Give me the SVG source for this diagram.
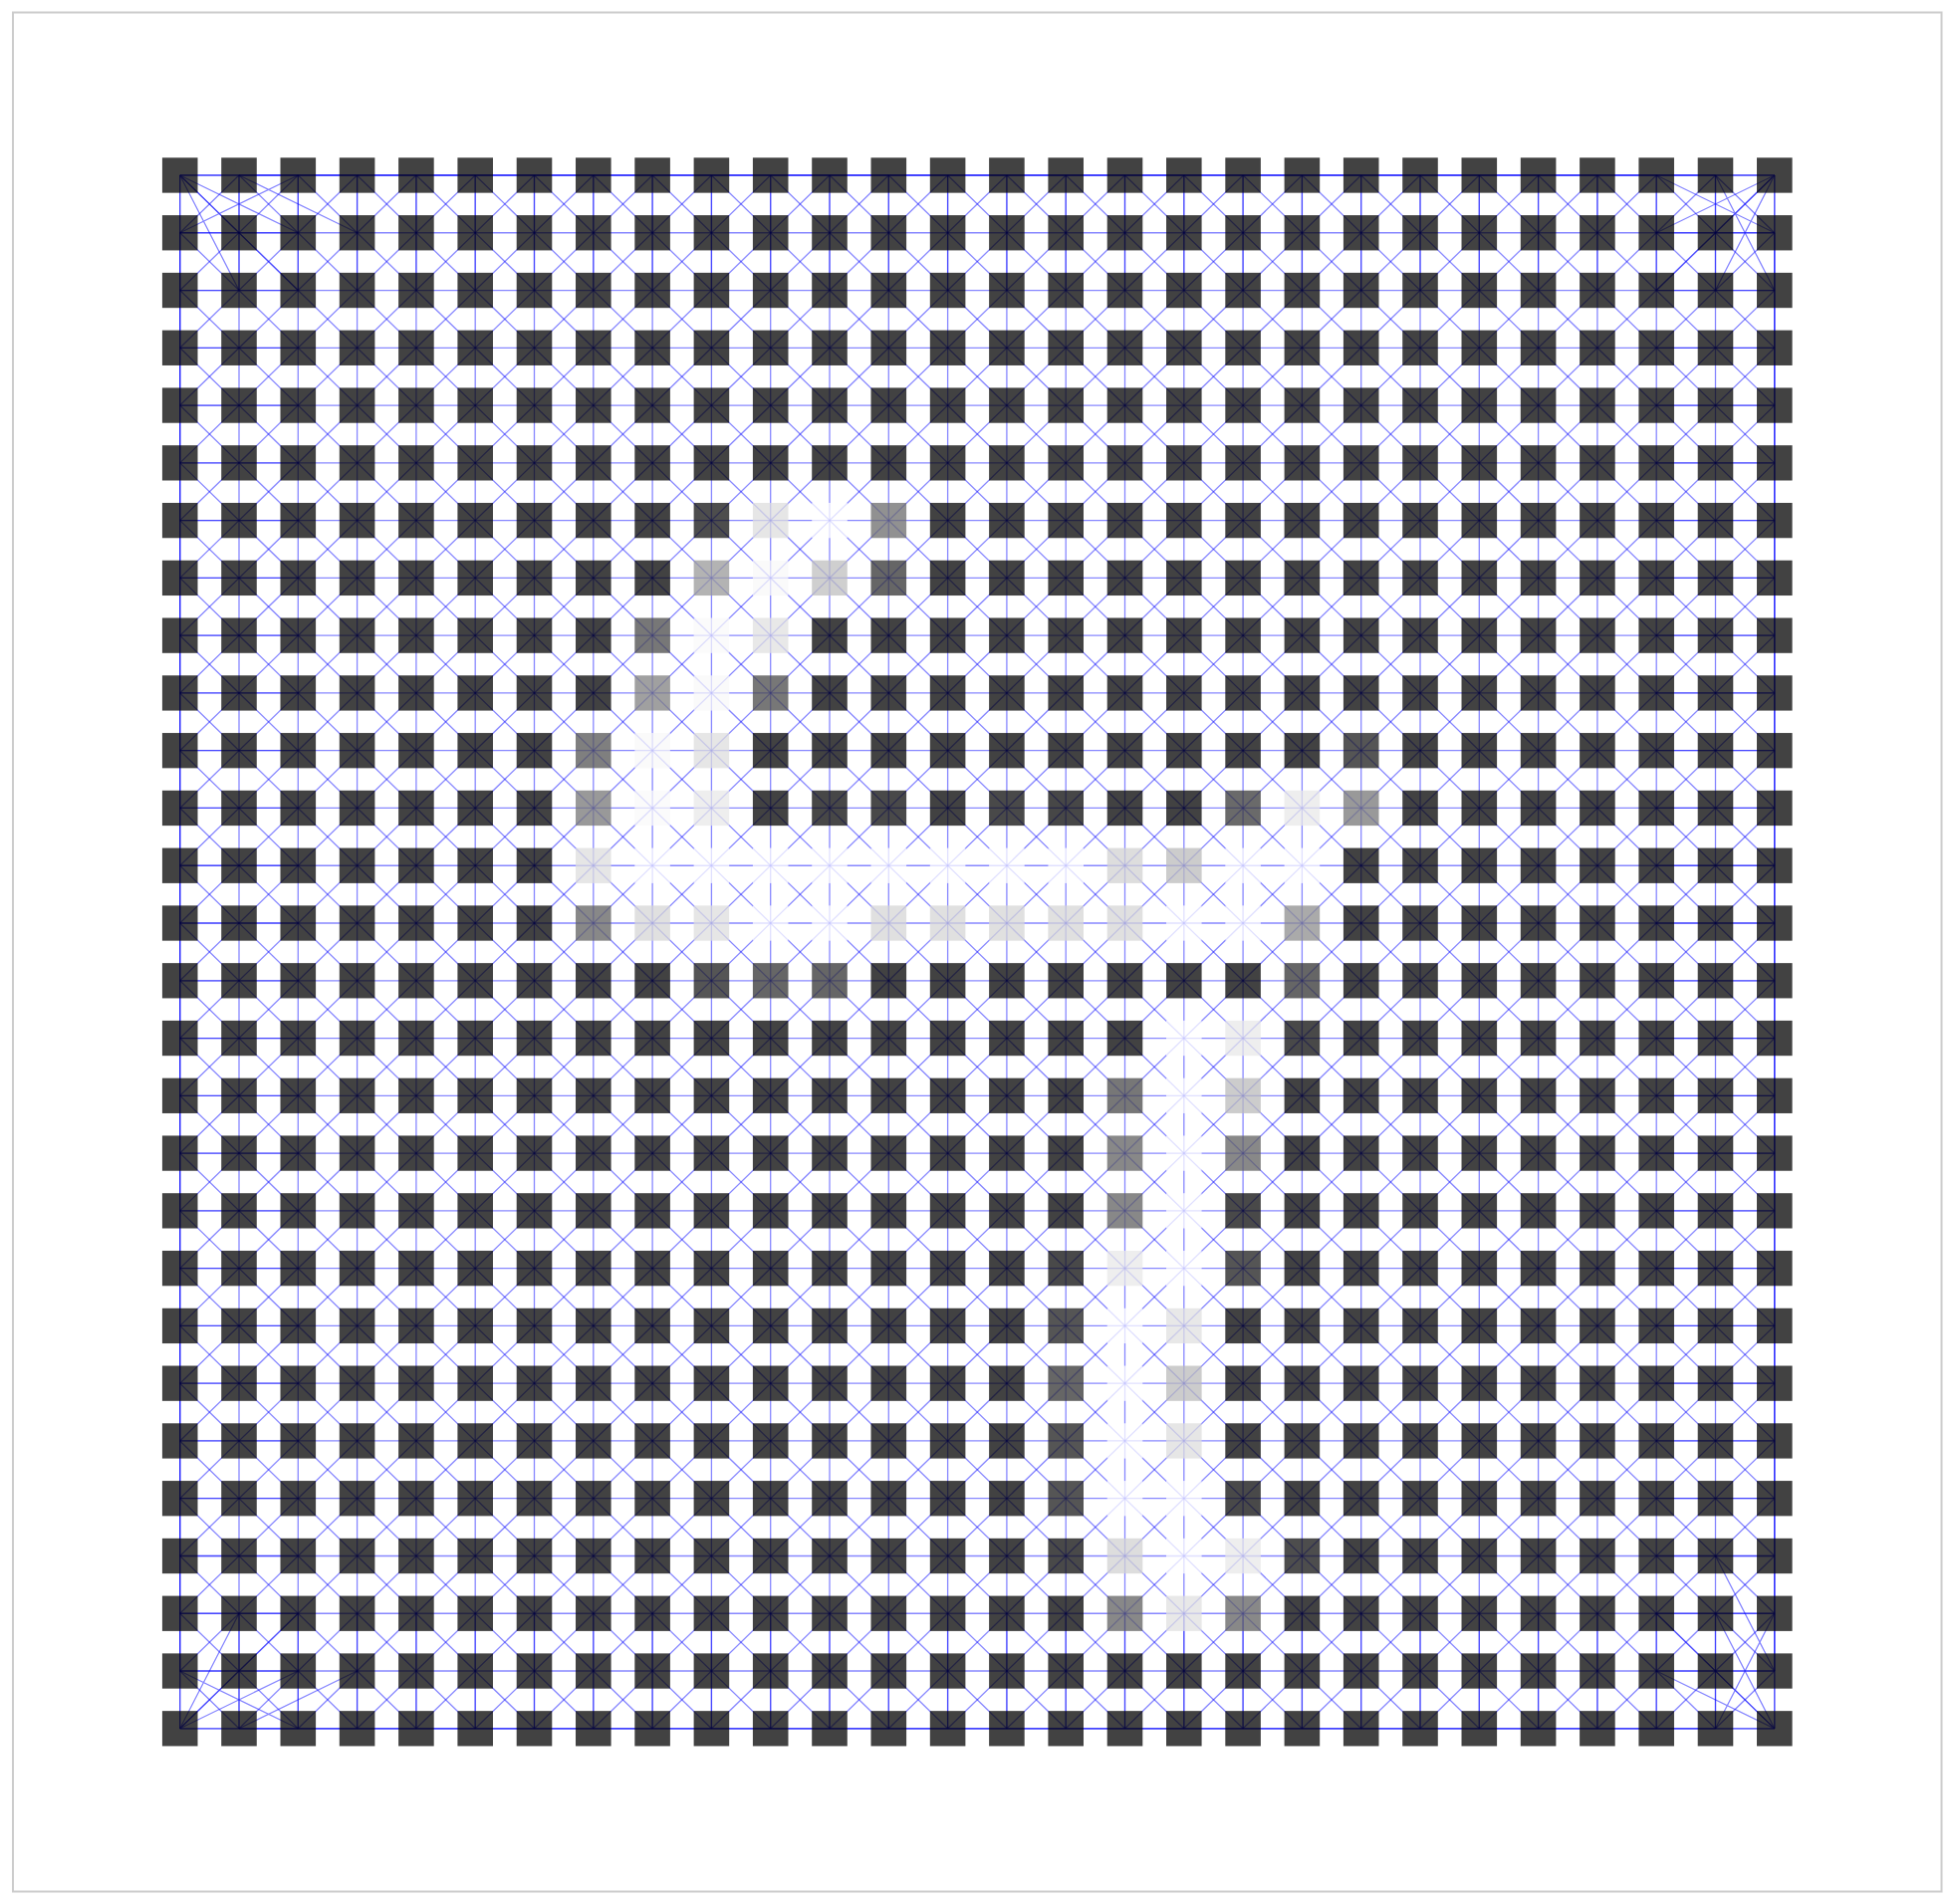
<svg xmlns="http://www.w3.org/2000/svg" xmlns:xlink="http://www.w3.org/1999/xlink" width="1962" height="1912" viewBox="0 0 1962 1912">
<style>
.e{fill:none;stroke:#0000ff;stroke-opacity:.47;stroke-width:1.3px;vector-effect:non-scaling-stroke}
</style>
<defs><rect id="d" x="-0.3" y="-0.3055" width="0.6" height="0.611"/></defs>
<rect width="1962" height="1912" fill="#ffffff"/>
<rect x="13" y="12.5" width="1936.5" height="1887" fill="none" stroke="#cccccc" stroke-width="2"/>
<g transform="matrix(59.3 0 0 57.77 180.7 176)">
<g id="connectors">
<path class="e" d="M0 0H27M0 1H27M0 2H27M0 3H27M0 4H27M0 5H27M0 6H27M0 7H27M0 8H27M0 9H27M0 10H27M0 11H27M0 12H27M0 13H27M0 14H27M0 15H27M0 16H27M0 17H27M0 18H27M0 19H27M0 20H27M0 21H27M0 22H27M0 23H27M0 24H27M0 25H27M0 26H27M0 27H27"/>
<path class="e" d="M0 0V27M1 0V27M2 0V27M3 0V27M4 0V27M5 0V27M6 0V27M7 0V27M8 0V27M9 0V27M10 0V27M11 0V27M12 0V27M13 0V27M14 0V27M15 0V27M16 0V27M17 0V27M18 0V27M19 0V27M20 0V27M21 0V27M22 0V27M23 0V27M24 0V27M25 0V27M26 0V27M27 0V27"/>
<path class="e" d="M0 26L1 27M0 25L2 27M0 24L3 27M0 23L4 27M0 22L5 27M0 21L6 27M0 20L7 27M0 19L8 27M0 18L9 27M0 17L10 27M0 16L11 27M0 15L12 27M0 14L13 27M0 13L14 27M0 12L15 27M0 11L16 27M0 10L17 27M0 9L18 27M0 8L19 27M0 7L20 27M0 6L21 27M0 5L22 27M0 4L23 27M0 3L24 27M0 2L25 27M0 1L26 27M0 0L27 27M1 0L27 26M2 0L27 25M3 0L27 24M4 0L27 23M5 0L27 22M6 0L27 21M7 0L27 20M8 0L27 19M9 0L27 18M10 0L27 17M11 0L27 16M12 0L27 15M13 0L27 14M14 0L27 13M15 0L27 12M16 0L27 11M17 0L27 10M18 0L27 9M19 0L27 8M20 0L27 7M21 0L27 6M22 0L27 5M23 0L27 4M24 0L27 3M25 0L27 2M26 0L27 1"/>
<path class="e" d="M1 0L0 1M2 0L0 2M3 0L0 3M4 0L0 4M5 0L0 5M6 0L0 6M7 0L0 7M8 0L0 8M9 0L0 9M10 0L0 10M11 0L0 11M12 0L0 12M13 0L0 13M14 0L0 14M15 0L0 15M16 0L0 16M17 0L0 17M18 0L0 18M19 0L0 19M20 0L0 20M21 0L0 21M22 0L0 22M23 0L0 23M24 0L0 24M25 0L0 25M26 0L0 26M27 0L0 27M27 1L1 27M27 2L2 27M27 3L3 27M27 4L4 27M27 5L5 27M27 6L6 27M27 7L7 27M27 8L8 27M27 9L9 27M27 10L10 27M27 11L11 27M27 12L12 27M27 13L13 27M27 14L14 27M27 15L15 27M27 16L16 27M27 17L17 27M27 18L18 27M27 19L19 27M27 20L20 27M27 21L21 27M27 22L22 27M27 23L23 27M27 24L24 27M27 25L25 27M27 26L26 27"/>
<path class="e" d="M0 0H26M0 27H26M0 0V26M27 0V26"/>
<path class="e" d="M1 0H27M1 27H27M0 1V27M27 1V27"/>
<path class="e" d="M1 0V2M2 0V2M3 0V2M4 0V2M5 0V2M6 0V2M7 0V2M8 0V2M9 0V2M10 0V2M11 0V2M12 0V2M13 0V2M14 0V2M15 0V2M16 0V2M17 0V2M18 0V2M19 0V2M20 0V2M21 0V2M22 0V2M23 0V2M24 0V2M25 0V2M26 0V2M1 25V27M2 25V27M3 25V27M4 25V27M5 25V27M6 25V27M7 25V27M8 25V27M9 25V27M10 25V27M11 25V27M12 25V27M13 25V27M14 25V27M15 25V27M16 25V27M17 25V27M18 25V27M19 25V27M20 25V27M21 25V27M22 25V27M23 25V27M24 25V27M25 25V27M26 25V27M0 1H2M0 2H2M0 3H2M0 4H2M0 5H2M0 6H2M0 7H2M0 8H2M0 9H2M0 10H2M0 11H2M0 12H2M0 13H2M0 14H2M0 15H2M0 16H2M0 17H2M0 18H2M0 19H2M0 20H2M0 21H2M0 22H2M0 23H2M0 24H2M0 25H2M0 26H2M25 1H27M25 2H27M25 3H27M25 4H27M25 5H27M25 6H27M25 7H27M25 8H27M25 9H27M25 10H27M25 11H27M25 12H27M25 13H27M25 14H27M25 15H27M25 16H27M25 17H27M25 18H27M25 19H27M25 20H27M25 21H27M25 22H27M25 23H27M25 24H27M25 25H27M25 26H27"/>
<path class="e" d="M0 0L2 1M0 0L1 2M0 0L2 2M27 0L25 1M27 0L26 2M27 0L25 2M0 27L2 26M0 27L1 25M0 27L2 25M27 27L25 26M27 27L26 25M27 27L25 25M1 0L3 1M0 1L2 0M26 0L27 2M27 1L25 0M0 26L2 27M1 27L3 26M26 27L27 25M27 26L26 24"/>
</g>
<g id="nodes" fill="#000000" fill-opacity="0.74">
<g id="row0" transform="translate(0 0)"><use id="n0-0" href="#d"/><use id="n0-1" href="#d" x="1"/><use id="n0-2" href="#d" x="2"/><use id="n0-3" href="#d" x="3"/><use id="n0-4" href="#d" x="4"/><use id="n0-5" href="#d" x="5"/><use id="n0-6" href="#d" x="6"/><use id="n0-7" href="#d" x="7"/><use id="n0-8" href="#d" x="8"/><use id="n0-9" href="#d" x="9"/><use id="n0-10" href="#d" x="10"/><use id="n0-11" href="#d" x="11"/><use id="n0-12" href="#d" x="12"/><use id="n0-13" href="#d" x="13"/><use id="n0-14" href="#d" x="14"/><use id="n0-15" href="#d" x="15"/><use id="n0-16" href="#d" x="16"/><use id="n0-17" href="#d" x="17"/><use id="n0-18" href="#d" x="18"/><use id="n0-19" href="#d" x="19"/><use id="n0-20" href="#d" x="20"/><use id="n0-21" href="#d" x="21"/><use id="n0-22" href="#d" x="22"/><use id="n0-23" href="#d" x="23"/><use id="n0-24" href="#d" x="24"/><use id="n0-25" href="#d" x="25"/><use id="n0-26" href="#d" x="26"/><use id="n0-27" href="#d" x="27"/></g>
<g id="row1" transform="translate(0 1)"><use id="n1-0" href="#d"/><use id="n1-1" href="#d" x="1"/><use id="n1-2" href="#d" x="2"/><use id="n1-3" href="#d" x="3"/><use id="n1-4" href="#d" x="4"/><use id="n1-5" href="#d" x="5"/><use id="n1-6" href="#d" x="6"/><use id="n1-7" href="#d" x="7"/><use id="n1-8" href="#d" x="8"/><use id="n1-9" href="#d" x="9"/><use id="n1-10" href="#d" x="10"/><use id="n1-11" href="#d" x="11"/><use id="n1-12" href="#d" x="12"/><use id="n1-13" href="#d" x="13"/><use id="n1-14" href="#d" x="14"/><use id="n1-15" href="#d" x="15"/><use id="n1-16" href="#d" x="16"/><use id="n1-17" href="#d" x="17"/><use id="n1-18" href="#d" x="18"/><use id="n1-19" href="#d" x="19"/><use id="n1-20" href="#d" x="20"/><use id="n1-21" href="#d" x="21"/><use id="n1-22" href="#d" x="22"/><use id="n1-23" href="#d" x="23"/><use id="n1-24" href="#d" x="24"/><use id="n1-25" href="#d" x="25"/><use id="n1-26" href="#d" x="26"/><use id="n1-27" href="#d" x="27"/></g>
<g id="row2" transform="translate(0 2)"><use id="n2-0" href="#d"/><use id="n2-1" href="#d" x="1"/><use id="n2-2" href="#d" x="2"/><use id="n2-3" href="#d" x="3"/><use id="n2-4" href="#d" x="4"/><use id="n2-5" href="#d" x="5"/><use id="n2-6" href="#d" x="6"/><use id="n2-7" href="#d" x="7"/><use id="n2-8" href="#d" x="8"/><use id="n2-9" href="#d" x="9"/><use id="n2-10" href="#d" x="10"/><use id="n2-11" href="#d" x="11"/><use id="n2-12" href="#d" x="12"/><use id="n2-13" href="#d" x="13"/><use id="n2-14" href="#d" x="14"/><use id="n2-15" href="#d" x="15"/><use id="n2-16" href="#d" x="16"/><use id="n2-17" href="#d" x="17"/><use id="n2-18" href="#d" x="18"/><use id="n2-19" href="#d" x="19"/><use id="n2-20" href="#d" x="20"/><use id="n2-21" href="#d" x="21"/><use id="n2-22" href="#d" x="22"/><use id="n2-23" href="#d" x="23"/><use id="n2-24" href="#d" x="24"/><use id="n2-25" href="#d" x="25"/><use id="n2-26" href="#d" x="26"/><use id="n2-27" href="#d" x="27"/></g>
<g id="row3" transform="translate(0 3)"><use id="n3-0" href="#d"/><use id="n3-1" href="#d" x="1"/><use id="n3-2" href="#d" x="2"/><use id="n3-3" href="#d" x="3"/><use id="n3-4" href="#d" x="4"/><use id="n3-5" href="#d" x="5"/><use id="n3-6" href="#d" x="6"/><use id="n3-7" href="#d" x="7"/><use id="n3-8" href="#d" x="8"/><use id="n3-9" href="#d" x="9"/><use id="n3-10" href="#d" x="10"/><use id="n3-11" href="#d" x="11"/><use id="n3-12" href="#d" x="12"/><use id="n3-13" href="#d" x="13"/><use id="n3-14" href="#d" x="14"/><use id="n3-15" href="#d" x="15"/><use id="n3-16" href="#d" x="16"/><use id="n3-17" href="#d" x="17"/><use id="n3-18" href="#d" x="18"/><use id="n3-19" href="#d" x="19"/><use id="n3-20" href="#d" x="20"/><use id="n3-21" href="#d" x="21"/><use id="n3-22" href="#d" x="22"/><use id="n3-23" href="#d" x="23"/><use id="n3-24" href="#d" x="24"/><use id="n3-25" href="#d" x="25"/><use id="n3-26" href="#d" x="26"/><use id="n3-27" href="#d" x="27"/></g>
<g id="row4" transform="translate(0 4)"><use id="n4-0" href="#d"/><use id="n4-1" href="#d" x="1"/><use id="n4-2" href="#d" x="2"/><use id="n4-3" href="#d" x="3"/><use id="n4-4" href="#d" x="4"/><use id="n4-5" href="#d" x="5"/><use id="n4-6" href="#d" x="6"/><use id="n4-7" href="#d" x="7"/><use id="n4-8" href="#d" x="8"/><use id="n4-9" href="#d" x="9"/><use id="n4-10" href="#d" x="10"/><use id="n4-11" href="#d" x="11"/><use id="n4-12" href="#d" x="12"/><use id="n4-13" href="#d" x="13"/><use id="n4-14" href="#d" x="14"/><use id="n4-15" href="#d" x="15"/><use id="n4-16" href="#d" x="16"/><use id="n4-17" href="#d" x="17"/><use id="n4-18" href="#d" x="18"/><use id="n4-19" href="#d" x="19"/><use id="n4-20" href="#d" x="20"/><use id="n4-21" href="#d" x="21"/><use id="n4-22" href="#d" x="22"/><use id="n4-23" href="#d" x="23"/><use id="n4-24" href="#d" x="24"/><use id="n4-25" href="#d" x="25"/><use id="n4-26" href="#d" x="26"/><use id="n4-27" href="#d" x="27"/></g>
<g id="row5" transform="translate(0 5)"><use id="n5-0" href="#d"/><use id="n5-1" href="#d" x="1"/><use id="n5-2" href="#d" x="2"/><use id="n5-3" href="#d" x="3"/><use id="n5-4" href="#d" x="4"/><use id="n5-5" href="#d" x="5"/><use id="n5-6" href="#d" x="6"/><use id="n5-7" href="#d" x="7"/><use id="n5-8" href="#d" x="8"/><use id="n5-9" href="#d" x="9"/><use id="n5-10" href="#d" x="10"/><use id="n5-11" href="#d" x="11"/><use id="n5-12" href="#d" x="12"/><use id="n5-13" href="#d" x="13"/><use id="n5-14" href="#d" x="14"/><use id="n5-15" href="#d" x="15"/><use id="n5-16" href="#d" x="16"/><use id="n5-17" href="#d" x="17"/><use id="n5-18" href="#d" x="18"/><use id="n5-19" href="#d" x="19"/><use id="n5-20" href="#d" x="20"/><use id="n5-21" href="#d" x="21"/><use id="n5-22" href="#d" x="22"/><use id="n5-23" href="#d" x="23"/><use id="n5-24" href="#d" x="24"/><use id="n5-25" href="#d" x="25"/><use id="n5-26" href="#d" x="26"/><use id="n5-27" href="#d" x="27"/></g>
<g id="row6" transform="translate(0 6)"><use id="n6-0" href="#d"/><use id="n6-1" href="#d" x="1"/><use id="n6-2" href="#d" x="2"/><use id="n6-3" href="#d" x="3"/><use id="n6-4" href="#d" x="4"/><use id="n6-5" href="#d" x="5"/><use id="n6-6" href="#d" x="6"/><use id="n6-7" href="#d" x="7"/><use id="n6-8" href="#d" x="8"/><use id="n6-9" href="#d" x="9" fill="#0f0f0f"/><use id="n6-10" href="#d" x="10" fill="#dddddd"/><use id="n6-11" href="#d" x="11" fill="#ffffff"/><use id="n6-12" href="#d" x="12" fill="#6a6a6a"/><use id="n6-13" href="#d" x="13"/><use id="n6-14" href="#d" x="14"/><use id="n6-15" href="#d" x="15"/><use id="n6-16" href="#d" x="16"/><use id="n6-17" href="#d" x="17"/><use id="n6-18" href="#d" x="18"/><use id="n6-19" href="#d" x="19"/><use id="n6-20" href="#d" x="20"/><use id="n6-21" href="#d" x="21"/><use id="n6-22" href="#d" x="22"/><use id="n6-23" href="#d" x="23"/><use id="n6-24" href="#d" x="24"/><use id="n6-25" href="#d" x="25"/><use id="n6-26" href="#d" x="26"/><use id="n6-27" href="#d" x="27"/></g>
<g id="row7" transform="translate(0 7)"><use id="n7-0" href="#d"/><use id="n7-1" href="#d" x="1"/><use id="n7-2" href="#d" x="2"/><use id="n7-3" href="#d" x="3"/><use id="n7-4" href="#d" x="4"/><use id="n7-5" href="#d" x="5"/><use id="n7-6" href="#d" x="6"/><use id="n7-7" href="#d" x="7"/><use id="n7-8" href="#d" x="8"/><use id="n7-9" href="#d" x="9" fill="#989898"/><use id="n7-10" href="#d" x="10" fill="#f8f8f8"/><use id="n7-11" href="#d" x="11" fill="#bebebe"/><use id="n7-12" href="#d" x="12" fill="#303030"/><use id="n7-13" href="#d" x="13"/><use id="n7-14" href="#d" x="14"/><use id="n7-15" href="#d" x="15"/><use id="n7-16" href="#d" x="16"/><use id="n7-17" href="#d" x="17"/><use id="n7-18" href="#d" x="18"/><use id="n7-19" href="#d" x="19"/><use id="n7-20" href="#d" x="20"/><use id="n7-21" href="#d" x="21"/><use id="n7-22" href="#d" x="22"/><use id="n7-23" href="#d" x="23"/><use id="n7-24" href="#d" x="24"/><use id="n7-25" href="#d" x="25"/><use id="n7-26" href="#d" x="26"/><use id="n7-27" href="#d" x="27"/></g>
<g id="row8" transform="translate(0 8)"><use id="n8-0" href="#d"/><use id="n8-1" href="#d" x="1"/><use id="n8-2" href="#d" x="2"/><use id="n8-3" href="#d" x="3"/><use id="n8-4" href="#d" x="4"/><use id="n8-5" href="#d" x="5"/><use id="n8-6" href="#d" x="6"/><use id="n8-7" href="#d" x="7"/><use id="n8-8" href="#d" x="8" fill="#474747"/><use id="n8-9" href="#d" x="9" fill="#f9f9f9"/><use id="n8-10" href="#d" x="10" fill="#e0e0e0"/><use id="n8-11" href="#d" x="11"/><use id="n8-12" href="#d" x="12"/><use id="n8-13" href="#d" x="13"/><use id="n8-14" href="#d" x="14"/><use id="n8-15" href="#d" x="15"/><use id="n8-16" href="#d" x="16"/><use id="n8-17" href="#d" x="17"/><use id="n8-18" href="#d" x="18"/><use id="n8-19" href="#d" x="19"/><use id="n8-20" href="#d" x="20"/><use id="n8-21" href="#d" x="21"/><use id="n8-22" href="#d" x="22"/><use id="n8-23" href="#d" x="23"/><use id="n8-24" href="#d" x="24"/><use id="n8-25" href="#d" x="25"/><use id="n8-26" href="#d" x="26"/><use id="n8-27" href="#d" x="27"/></g>
<g id="row9" transform="translate(0 9)"><use id="n9-0" href="#d"/><use id="n9-1" href="#d" x="1"/><use id="n9-2" href="#d" x="2"/><use id="n9-3" href="#d" x="3"/><use id="n9-4" href="#d" x="4"/><use id="n9-5" href="#d" x="5"/><use id="n9-6" href="#d" x="6"/><use id="n9-7" href="#d" x="7"/><use id="n9-8" href="#d" x="8" fill="#7f7f7f"/><use id="n9-9" href="#d" x="9" fill="#f8f8f8"/><use id="n9-10" href="#d" x="10" fill="#474747"/><use id="n9-11" href="#d" x="11"/><use id="n9-12" href="#d" x="12"/><use id="n9-13" href="#d" x="13"/><use id="n9-14" href="#d" x="14"/><use id="n9-15" href="#d" x="15"/><use id="n9-16" href="#d" x="16"/><use id="n9-17" href="#d" x="17"/><use id="n9-18" href="#d" x="18"/><use id="n9-19" href="#d" x="19"/><use id="n9-20" href="#d" x="20"/><use id="n9-21" href="#d" x="21"/><use id="n9-22" href="#d" x="22"/><use id="n9-23" href="#d" x="23"/><use id="n9-24" href="#d" x="24"/><use id="n9-25" href="#d" x="25"/><use id="n9-26" href="#d" x="26"/><use id="n9-27" href="#d" x="27"/></g>
<g id="row10" transform="translate(0 10)"><use id="n10-0" href="#d"/><use id="n10-1" href="#d" x="1"/><use id="n10-2" href="#d" x="2"/><use id="n10-3" href="#d" x="3"/><use id="n10-4" href="#d" x="4"/><use id="n10-5" href="#d" x="5"/><use id="n10-6" href="#d" x="6"/><use id="n10-7" href="#d" x="7" fill="#525252"/><use id="n10-8" href="#d" x="8" fill="#f8f8f8"/><use id="n10-9" href="#d" x="9" fill="#dddddd"/><use id="n10-10" href="#d" x="10"/><use id="n10-11" href="#d" x="11"/><use id="n10-12" href="#d" x="12"/><use id="n10-13" href="#d" x="13"/><use id="n10-14" href="#d" x="14"/><use id="n10-15" href="#d" x="15"/><use id="n10-16" href="#d" x="16"/><use id="n10-17" href="#d" x="17"/><use id="n10-18" href="#d" x="18"/><use id="n10-19" href="#d" x="19"/><use id="n10-20" href="#d" x="20" fill="#191919"/><use id="n10-21" href="#d" x="21"/><use id="n10-22" href="#d" x="22"/><use id="n10-23" href="#d" x="23"/><use id="n10-24" href="#d" x="24"/><use id="n10-25" href="#d" x="25"/><use id="n10-26" href="#d" x="26"/><use id="n10-27" href="#d" x="27"/></g>
<g id="row11" transform="translate(0 11)"><use id="n11-0" href="#d"/><use id="n11-1" href="#d" x="1"/><use id="n11-2" href="#d" x="2"/><use id="n11-3" href="#d" x="3"/><use id="n11-4" href="#d" x="4"/><use id="n11-5" href="#d" x="5"/><use id="n11-6" href="#d" x="6"/><use id="n11-7" href="#d" x="7" fill="#757575"/><use id="n11-8" href="#d" x="8" fill="#fafafa"/><use id="n11-9" href="#d" x="9" fill="#e8e8e8"/><use id="n11-10" href="#d" x="10"/><use id="n11-11" href="#d" x="11" fill="#070707"/><use id="n11-12" href="#d" x="12" fill="#0a0a0a"/><use id="n11-13" href="#d" x="13"/><use id="n11-14" href="#d" x="14" fill="#0a0a0a"/><use id="n11-15" href="#d" x="15" fill="#070707"/><use id="n11-16" href="#d" x="16"/><use id="n11-17" href="#d" x="17"/><use id="n11-18" href="#d" x="18" fill="#363636"/><use id="n11-19" href="#d" x="19" fill="#e8e8e8"/><use id="n11-20" href="#d" x="20" fill="#757575"/><use id="n11-21" href="#d" x="21"/><use id="n11-22" href="#d" x="22"/><use id="n11-23" href="#d" x="23"/><use id="n11-24" href="#d" x="24"/><use id="n11-25" href="#d" x="25"/><use id="n11-26" href="#d" x="26"/><use id="n11-27" href="#d" x="27"/></g>
<g id="row12" transform="translate(0 12)"><use id="n12-0" href="#d"/><use id="n12-1" href="#d" x="1"/><use id="n12-2" href="#d" x="2"/><use id="n12-3" href="#d" x="3"/><use id="n12-4" href="#d" x="4"/><use id="n12-5" href="#d" x="5"/><use id="n12-6" href="#d" x="6"/><use id="n12-7" href="#d" x="7" fill="#dddddd"/><use id="n12-8" href="#d" x="8" fill="#ffffff"/><use id="n12-9" href="#d" x="9" fill="#ffffff"/><use id="n12-10" href="#d" x="10" fill="#ffffff"/><use id="n12-11" href="#d" x="11" fill="#ffffff"/><use id="n12-12" href="#d" x="12" fill="#ffffff"/><use id="n12-13" href="#d" x="13" fill="#ffffff"/><use id="n12-14" href="#d" x="14" fill="#ffffff"/><use id="n12-15" href="#d" x="15" fill="#ffffff"/><use id="n12-16" href="#d" x="16" fill="#d1d1d1"/><use id="n12-17" href="#d" x="17" fill="#bababa"/><use id="n12-18" href="#d" x="18" fill="#ffffff"/><use id="n12-19" href="#d" x="19" fill="#ffffff"/><use id="n12-20" href="#d" x="20"/><use id="n12-21" href="#d" x="21"/><use id="n12-22" href="#d" x="22"/><use id="n12-23" href="#d" x="23"/><use id="n12-24" href="#d" x="24"/><use id="n12-25" href="#d" x="25"/><use id="n12-26" href="#d" x="26"/><use id="n12-27" href="#d" x="27"/></g>
<g id="row13" transform="translate(0 13)"><use id="n13-0" href="#d"/><use id="n13-1" href="#d" x="1"/><use id="n13-2" href="#d" x="2"/><use id="n13-3" href="#d" x="3"/><use id="n13-4" href="#d" x="4"/><use id="n13-5" href="#d" x="5"/><use id="n13-6" href="#d" x="6"/><use id="n13-7" href="#d" x="7" fill="#5e5e5e"/><use id="n13-8" href="#d" x="8" fill="#d5d5d5"/><use id="n13-9" href="#d" x="9" fill="#dddddd"/><use id="n13-10" href="#d" x="10" fill="#ffffff"/><use id="n13-11" href="#d" x="11" fill="#ffffff"/><use id="n13-12" href="#d" x="12" fill="#d5d5d5"/><use id="n13-13" href="#d" x="13" fill="#d5d5d5"/><use id="n13-14" href="#d" x="14" fill="#d5d5d5"/><use id="n13-15" href="#d" x="15" fill="#d5d5d5"/><use id="n13-16" href="#d" x="16" fill="#d5d5d5"/><use id="n13-17" href="#d" x="17" fill="#ffffff"/><use id="n13-18" href="#d" x="18" fill="#ffffff"/><use id="n13-19" href="#d" x="19" fill="#8c8c8c"/><use id="n13-20" href="#d" x="20"/><use id="n13-21" href="#d" x="21"/><use id="n13-22" href="#d" x="22"/><use id="n13-23" href="#d" x="23"/><use id="n13-24" href="#d" x="24"/><use id="n13-25" href="#d" x="25"/><use id="n13-26" href="#d" x="26"/><use id="n13-27" href="#d" x="27"/></g>
<g id="row14" transform="translate(0 14)"><use id="n14-0" href="#d"/><use id="n14-1" href="#d" x="1"/><use id="n14-2" href="#d" x="2"/><use id="n14-3" href="#d" x="3"/><use id="n14-4" href="#d" x="4"/><use id="n14-5" href="#d" x="5"/><use id="n14-6" href="#d" x="6"/><use id="n14-7" href="#d" x="7"/><use id="n14-8" href="#d" x="8"/><use id="n14-9" href="#d" x="9" fill="#191919"/><use id="n14-10" href="#d" x="10" fill="#303030"/><use id="n14-11" href="#d" x="11" fill="#303030"/><use id="n14-12" href="#d" x="12"/><use id="n14-13" href="#d" x="13"/><use id="n14-14" href="#d" x="14"/><use id="n14-15" href="#d" x="15"/><use id="n14-16" href="#d" x="16"/><use id="n14-17" href="#d" x="17"/><use id="n14-18" href="#d" x="18"/><use id="n14-19" href="#d" x="19" fill="#303030"/><use id="n14-20" href="#d" x="20"/><use id="n14-21" href="#d" x="21"/><use id="n14-22" href="#d" x="22"/><use id="n14-23" href="#d" x="23"/><use id="n14-24" href="#d" x="24"/><use id="n14-25" href="#d" x="25"/><use id="n14-26" href="#d" x="26"/><use id="n14-27" href="#d" x="27"/></g>
<g id="row15" transform="translate(0 15)"><use id="n15-0" href="#d"/><use id="n15-1" href="#d" x="1"/><use id="n15-2" href="#d" x="2"/><use id="n15-3" href="#d" x="3"/><use id="n15-4" href="#d" x="4"/><use id="n15-5" href="#d" x="5"/><use id="n15-6" href="#d" x="6"/><use id="n15-7" href="#d" x="7"/><use id="n15-8" href="#d" x="8"/><use id="n15-9" href="#d" x="9"/><use id="n15-10" href="#d" x="10"/><use id="n15-11" href="#d" x="11"/><use id="n15-12" href="#d" x="12"/><use id="n15-13" href="#d" x="13"/><use id="n15-14" href="#d" x="14"/><use id="n15-15" href="#d" x="15"/><use id="n15-16" href="#d" x="16"/><use id="n15-17" href="#d" x="17" fill="#ffffff"/><use id="n15-18" href="#d" x="18" fill="#e8e8e8"/><use id="n15-19" href="#d" x="19" fill="#0a0a0a"/><use id="n15-20" href="#d" x="20"/><use id="n15-21" href="#d" x="21"/><use id="n15-22" href="#d" x="22"/><use id="n15-23" href="#d" x="23"/><use id="n15-24" href="#d" x="24"/><use id="n15-25" href="#d" x="25"/><use id="n15-26" href="#d" x="26"/><use id="n15-27" href="#d" x="27"/></g>
<g id="row16" transform="translate(0 16)"><use id="n16-0" href="#d"/><use id="n16-1" href="#d" x="1"/><use id="n16-2" href="#d" x="2"/><use id="n16-3" href="#d" x="3"/><use id="n16-4" href="#d" x="4"/><use id="n16-5" href="#d" x="5"/><use id="n16-6" href="#d" x="6"/><use id="n16-7" href="#d" x="7"/><use id="n16-8" href="#d" x="8"/><use id="n16-9" href="#d" x="9"/><use id="n16-10" href="#d" x="10"/><use id="n16-11" href="#d" x="11"/><use id="n16-12" href="#d" x="12"/><use id="n16-13" href="#d" x="13"/><use id="n16-14" href="#d" x="14"/><use id="n16-15" href="#d" x="15"/><use id="n16-16" href="#d" x="16" fill="#474747"/><use id="n16-17" href="#d" x="17" fill="#ffffff"/><use id="n16-18" href="#d" x="18" fill="#bababa"/><use id="n16-19" href="#d" x="19"/><use id="n16-20" href="#d" x="20"/><use id="n16-21" href="#d" x="21"/><use id="n16-22" href="#d" x="22"/><use id="n16-23" href="#d" x="23"/><use id="n16-24" href="#d" x="24"/><use id="n16-25" href="#d" x="25"/><use id="n16-26" href="#d" x="26"/><use id="n16-27" href="#d" x="27"/></g>
<g id="row17" transform="translate(0 17)"><use id="n17-0" href="#d"/><use id="n17-1" href="#d" x="1"/><use id="n17-2" href="#d" x="2"/><use id="n17-3" href="#d" x="3"/><use id="n17-4" href="#d" x="4"/><use id="n17-5" href="#d" x="5"/><use id="n17-6" href="#d" x="6"/><use id="n17-7" href="#d" x="7"/><use id="n17-8" href="#d" x="8"/><use id="n17-9" href="#d" x="9"/><use id="n17-10" href="#d" x="10"/><use id="n17-11" href="#d" x="11"/><use id="n17-12" href="#d" x="12"/><use id="n17-13" href="#d" x="13"/><use id="n17-14" href="#d" x="14"/><use id="n17-15" href="#d" x="15"/><use id="n17-16" href="#d" x="16" fill="#5e5e5e"/><use id="n17-17" href="#d" x="17" fill="#ffffff"/><use id="n17-18" href="#d" x="18" fill="#5e5e5e"/><use id="n17-19" href="#d" x="19"/><use id="n17-20" href="#d" x="20"/><use id="n17-21" href="#d" x="21"/><use id="n17-22" href="#d" x="22"/><use id="n17-23" href="#d" x="23"/><use id="n17-24" href="#d" x="24"/><use id="n17-25" href="#d" x="25"/><use id="n17-26" href="#d" x="26"/><use id="n17-27" href="#d" x="27"/></g>
<g id="row18" transform="translate(0 18)"><use id="n18-0" href="#d"/><use id="n18-1" href="#d" x="1"/><use id="n18-2" href="#d" x="2"/><use id="n18-3" href="#d" x="3"/><use id="n18-4" href="#d" x="4"/><use id="n18-5" href="#d" x="5"/><use id="n18-6" href="#d" x="6"/><use id="n18-7" href="#d" x="7"/><use id="n18-8" href="#d" x="8"/><use id="n18-9" href="#d" x="9"/><use id="n18-10" href="#d" x="10"/><use id="n18-11" href="#d" x="11"/><use id="n18-12" href="#d" x="12"/><use id="n18-13" href="#d" x="13"/><use id="n18-14" href="#d" x="14"/><use id="n18-15" href="#d" x="15"/><use id="n18-16" href="#d" x="16" fill="#5e5e5e"/><use id="n18-17" href="#d" x="17" fill="#ffffff"/><use id="n18-18" href="#d" x="18" fill="#0a0a0a"/><use id="n18-19" href="#d" x="19"/><use id="n18-20" href="#d" x="20"/><use id="n18-21" href="#d" x="21"/><use id="n18-22" href="#d" x="22"/><use id="n18-23" href="#d" x="23"/><use id="n18-24" href="#d" x="24"/><use id="n18-25" href="#d" x="25"/><use id="n18-26" href="#d" x="26"/><use id="n18-27" href="#d" x="27"/></g>
<g id="row19" transform="translate(0 19)"><use id="n19-0" href="#d"/><use id="n19-1" href="#d" x="1"/><use id="n19-2" href="#d" x="2"/><use id="n19-3" href="#d" x="3"/><use id="n19-4" href="#d" x="4"/><use id="n19-5" href="#d" x="5"/><use id="n19-6" href="#d" x="6"/><use id="n19-7" href="#d" x="7"/><use id="n19-8" href="#d" x="8"/><use id="n19-9" href="#d" x="9"/><use id="n19-10" href="#d" x="10"/><use id="n19-11" href="#d" x="11"/><use id="n19-12" href="#d" x="12"/><use id="n19-13" href="#d" x="13"/><use id="n19-14" href="#d" x="14"/><use id="n19-15" href="#d" x="15" fill="#0a0a0a"/><use id="n19-16" href="#d" x="16" fill="#e8e8e8"/><use id="n19-17" href="#d" x="17" fill="#ffffff"/><use id="n19-18" href="#d" x="18" fill="#191919"/><use id="n19-19" href="#d" x="19"/><use id="n19-20" href="#d" x="20"/><use id="n19-21" href="#d" x="21"/><use id="n19-22" href="#d" x="22"/><use id="n19-23" href="#d" x="23"/><use id="n19-24" href="#d" x="24"/><use id="n19-25" href="#d" x="25"/><use id="n19-26" href="#d" x="26"/><use id="n19-27" href="#d" x="27"/></g>
<g id="row20" transform="translate(0 20)"><use id="n20-0" href="#d"/><use id="n20-1" href="#d" x="1"/><use id="n20-2" href="#d" x="2"/><use id="n20-3" href="#d" x="3"/><use id="n20-4" href="#d" x="4"/><use id="n20-5" href="#d" x="5"/><use id="n20-6" href="#d" x="6"/><use id="n20-7" href="#d" x="7"/><use id="n20-8" href="#d" x="8"/><use id="n20-9" href="#d" x="9"/><use id="n20-10" href="#d" x="10"/><use id="n20-11" href="#d" x="11"/><use id="n20-12" href="#d" x="12"/><use id="n20-13" href="#d" x="13"/><use id="n20-14" href="#d" x="14"/><use id="n20-15" href="#d" x="15" fill="#191919"/><use id="n20-16" href="#d" x="16" fill="#ffffff"/><use id="n20-17" href="#d" x="17" fill="#e0e0e0"/><use id="n20-18" href="#d" x="18"/><use id="n20-19" href="#d" x="19"/><use id="n20-20" href="#d" x="20"/><use id="n20-21" href="#d" x="21"/><use id="n20-22" href="#d" x="22"/><use id="n20-23" href="#d" x="23"/><use id="n20-24" href="#d" x="24"/><use id="n20-25" href="#d" x="25"/><use id="n20-26" href="#d" x="26"/><use id="n20-27" href="#d" x="27"/></g>
<g id="row21" transform="translate(0 21)"><use id="n21-0" href="#d"/><use id="n21-1" href="#d" x="1"/><use id="n21-2" href="#d" x="2"/><use id="n21-3" href="#d" x="3"/><use id="n21-4" href="#d" x="4"/><use id="n21-5" href="#d" x="5"/><use id="n21-6" href="#d" x="6"/><use id="n21-7" href="#d" x="7"/><use id="n21-8" href="#d" x="8"/><use id="n21-9" href="#d" x="9"/><use id="n21-10" href="#d" x="10"/><use id="n21-11" href="#d" x="11"/><use id="n21-12" href="#d" x="12"/><use id="n21-13" href="#d" x="13"/><use id="n21-14" href="#d" x="14"/><use id="n21-15" href="#d" x="15" fill="#303030"/><use id="n21-16" href="#d" x="16" fill="#ffffff"/><use id="n21-17" href="#d" x="17" fill="#bababa"/><use id="n21-18" href="#d" x="18"/><use id="n21-19" href="#d" x="19"/><use id="n21-20" href="#d" x="20"/><use id="n21-21" href="#d" x="21"/><use id="n21-22" href="#d" x="22"/><use id="n21-23" href="#d" x="23"/><use id="n21-24" href="#d" x="24"/><use id="n21-25" href="#d" x="25"/><use id="n21-26" href="#d" x="26"/><use id="n21-27" href="#d" x="27"/></g>
<g id="row22" transform="translate(0 22)"><use id="n22-0" href="#d"/><use id="n22-1" href="#d" x="1"/><use id="n22-2" href="#d" x="2"/><use id="n22-3" href="#d" x="3"/><use id="n22-4" href="#d" x="4"/><use id="n22-5" href="#d" x="5"/><use id="n22-6" href="#d" x="6"/><use id="n22-7" href="#d" x="7"/><use id="n22-8" href="#d" x="8"/><use id="n22-9" href="#d" x="9"/><use id="n22-10" href="#d" x="10"/><use id="n22-11" href="#d" x="11"/><use id="n22-12" href="#d" x="12"/><use id="n22-13" href="#d" x="13"/><use id="n22-14" href="#d" x="14"/><use id="n22-15" href="#d" x="15" fill="#191919"/><use id="n22-16" href="#d" x="16" fill="#ffffff"/><use id="n22-17" href="#d" x="17" fill="#dddddd"/><use id="n22-18" href="#d" x="18"/><use id="n22-19" href="#d" x="19"/><use id="n22-20" href="#d" x="20"/><use id="n22-21" href="#d" x="21"/><use id="n22-22" href="#d" x="22"/><use id="n22-23" href="#d" x="23"/><use id="n22-24" href="#d" x="24"/><use id="n22-25" href="#d" x="25"/><use id="n22-26" href="#d" x="26"/><use id="n22-27" href="#d" x="27"/></g>
<g id="row23" transform="translate(0 23)"><use id="n23-0" href="#d"/><use id="n23-1" href="#d" x="1"/><use id="n23-2" href="#d" x="2"/><use id="n23-3" href="#d" x="3"/><use id="n23-4" href="#d" x="4"/><use id="n23-5" href="#d" x="5"/><use id="n23-6" href="#d" x="6"/><use id="n23-7" href="#d" x="7"/><use id="n23-8" href="#d" x="8"/><use id="n23-9" href="#d" x="9"/><use id="n23-10" href="#d" x="10"/><use id="n23-11" href="#d" x="11"/><use id="n23-12" href="#d" x="12"/><use id="n23-13" href="#d" x="13"/><use id="n23-14" href="#d" x="14"/><use id="n23-15" href="#d" x="15" fill="#191919"/><use id="n23-16" href="#d" x="16" fill="#ffffff"/><use id="n23-17" href="#d" x="17" fill="#ffffff"/><use id="n23-18" href="#d" x="18" fill="#0a0a0a"/><use id="n23-19" href="#d" x="19"/><use id="n23-20" href="#d" x="20"/><use id="n23-21" href="#d" x="21"/><use id="n23-22" href="#d" x="22"/><use id="n23-23" href="#d" x="23"/><use id="n23-24" href="#d" x="24"/><use id="n23-25" href="#d" x="25"/><use id="n23-26" href="#d" x="26"/><use id="n23-27" href="#d" x="27"/></g>
<g id="row24" transform="translate(0 24)"><use id="n24-0" href="#d"/><use id="n24-1" href="#d" x="1"/><use id="n24-2" href="#d" x="2"/><use id="n24-3" href="#d" x="3"/><use id="n24-4" href="#d" x="4"/><use id="n24-5" href="#d" x="5"/><use id="n24-6" href="#d" x="6"/><use id="n24-7" href="#d" x="7"/><use id="n24-8" href="#d" x="8"/><use id="n24-9" href="#d" x="9"/><use id="n24-10" href="#d" x="10"/><use id="n24-11" href="#d" x="11"/><use id="n24-12" href="#d" x="12"/><use id="n24-13" href="#d" x="13"/><use id="n24-14" href="#d" x="14"/><use id="n24-15" href="#d" x="15" fill="#0a0a0a"/><use id="n24-16" href="#d" x="16" fill="#d1d1d1"/><use id="n24-17" href="#d" x="17" fill="#ffffff"/><use id="n24-18" href="#d" x="18" fill="#e8e8e8"/><use id="n24-19" href="#d" x="19" fill="#0f0f0f"/><use id="n24-20" href="#d" x="20"/><use id="n24-21" href="#d" x="21"/><use id="n24-22" href="#d" x="22"/><use id="n24-23" href="#d" x="23"/><use id="n24-24" href="#d" x="24"/><use id="n24-25" href="#d" x="25"/><use id="n24-26" href="#d" x="26"/><use id="n24-27" href="#d" x="27"/></g>
<g id="row25" transform="translate(0 25)"><use id="n25-0" href="#d"/><use id="n25-1" href="#d" x="1"/><use id="n25-2" href="#d" x="2"/><use id="n25-3" href="#d" x="3"/><use id="n25-4" href="#d" x="4"/><use id="n25-5" href="#d" x="5"/><use id="n25-6" href="#d" x="6"/><use id="n25-7" href="#d" x="7"/><use id="n25-8" href="#d" x="8"/><use id="n25-9" href="#d" x="9"/><use id="n25-10" href="#d" x="10"/><use id="n25-11" href="#d" x="11"/><use id="n25-12" href="#d" x="12"/><use id="n25-13" href="#d" x="13"/><use id="n25-14" href="#d" x="14"/><use id="n25-15" href="#d" x="15"/><use id="n25-16" href="#d" x="16" fill="#5e5e5e"/><use id="n25-17" href="#d" x="17" fill="#e0e0e0"/><use id="n25-18" href="#d" x="18" fill="#5e5e5e"/><use id="n25-19" href="#d" x="19"/><use id="n25-20" href="#d" x="20"/><use id="n25-21" href="#d" x="21"/><use id="n25-22" href="#d" x="22"/><use id="n25-23" href="#d" x="23"/><use id="n25-24" href="#d" x="24"/><use id="n25-25" href="#d" x="25"/><use id="n25-26" href="#d" x="26"/><use id="n25-27" href="#d" x="27"/></g>
<g id="row26" transform="translate(0 26)"><use id="n26-0" href="#d"/><use id="n26-1" href="#d" x="1"/><use id="n26-2" href="#d" x="2"/><use id="n26-3" href="#d" x="3"/><use id="n26-4" href="#d" x="4"/><use id="n26-5" href="#d" x="5"/><use id="n26-6" href="#d" x="6"/><use id="n26-7" href="#d" x="7"/><use id="n26-8" href="#d" x="8"/><use id="n26-9" href="#d" x="9"/><use id="n26-10" href="#d" x="10"/><use id="n26-11" href="#d" x="11"/><use id="n26-12" href="#d" x="12"/><use id="n26-13" href="#d" x="13"/><use id="n26-14" href="#d" x="14"/><use id="n26-15" href="#d" x="15"/><use id="n26-16" href="#d" x="16"/><use id="n26-17" href="#d" x="17"/><use id="n26-18" href="#d" x="18"/><use id="n26-19" href="#d" x="19"/><use id="n26-20" href="#d" x="20"/><use id="n26-21" href="#d" x="21"/><use id="n26-22" href="#d" x="22"/><use id="n26-23" href="#d" x="23"/><use id="n26-24" href="#d" x="24"/><use id="n26-25" href="#d" x="25"/><use id="n26-26" href="#d" x="26"/><use id="n26-27" href="#d" x="27"/></g>
<g id="row27" transform="translate(0 27)"><use id="n27-0" href="#d"/><use id="n27-1" href="#d" x="1"/><use id="n27-2" href="#d" x="2"/><use id="n27-3" href="#d" x="3"/><use id="n27-4" href="#d" x="4"/><use id="n27-5" href="#d" x="5"/><use id="n27-6" href="#d" x="6"/><use id="n27-7" href="#d" x="7"/><use id="n27-8" href="#d" x="8"/><use id="n27-9" href="#d" x="9"/><use id="n27-10" href="#d" x="10"/><use id="n27-11" href="#d" x="11"/><use id="n27-12" href="#d" x="12"/><use id="n27-13" href="#d" x="13"/><use id="n27-14" href="#d" x="14"/><use id="n27-15" href="#d" x="15"/><use id="n27-16" href="#d" x="16"/><use id="n27-17" href="#d" x="17"/><use id="n27-18" href="#d" x="18"/><use id="n27-19" href="#d" x="19"/><use id="n27-20" href="#d" x="20"/><use id="n27-21" href="#d" x="21"/><use id="n27-22" href="#d" x="22"/><use id="n27-23" href="#d" x="23"/><use id="n27-24" href="#d" x="24"/><use id="n27-25" href="#d" x="25"/><use id="n27-26" href="#d" x="26"/><use id="n27-27" href="#d" x="27"/></g>
</g>
</g>
</svg>
